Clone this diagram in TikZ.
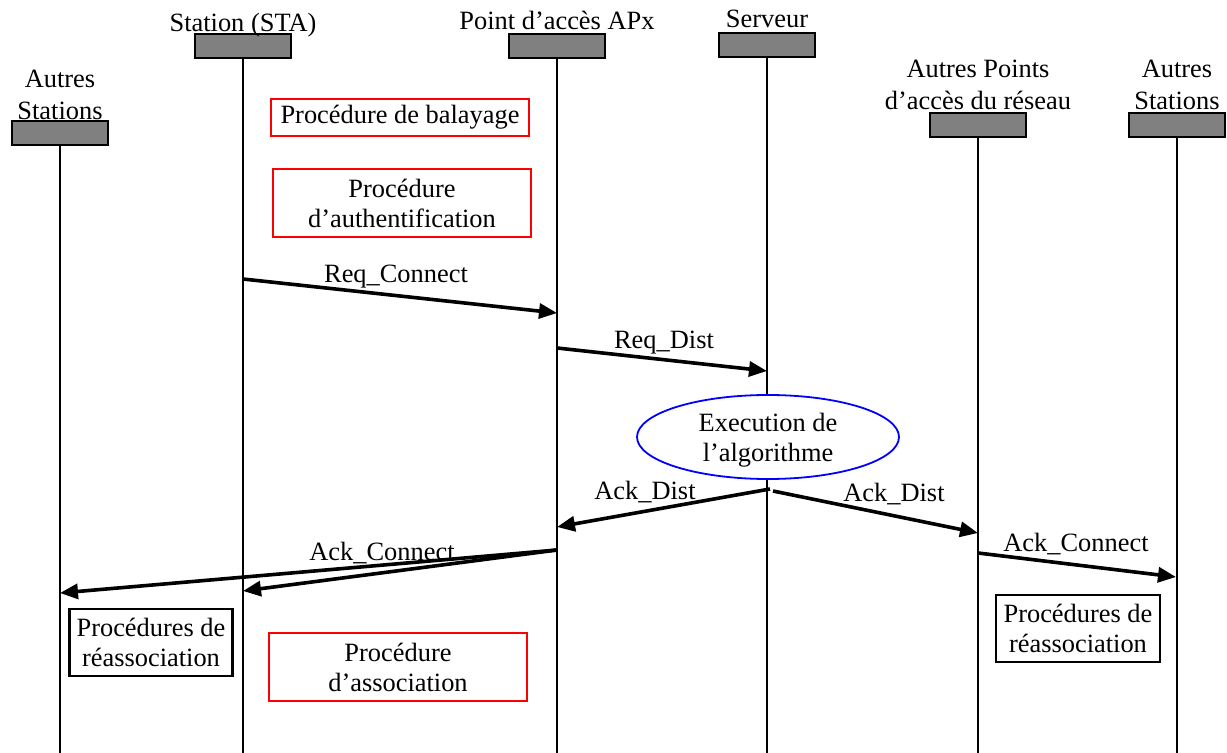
\documentclass[tikz,border=0pt]{standalone}
\usepackage{fontspec}
\setmainfont{Liberation Serif}
\usepackage{tikz}
\usetikzlibrary{shapes, arrows.meta}
\usetikzlibrary{positioning}

\tikzset{
    head/.style={draw=black, fill=black!50, line width=1pt, minimum width=48pt, minimum height=12pt, inner sep=0pt},
    headlbl/.style={align=center, inner sep=0pt, text depth=0pt, font=\fontsize{13.2}{16}\selectfont},
    life/.style={line width=0.9pt},
    msg/.style={line width=1.8pt, -{Triangle[length=9pt, width=7.5pt]}},
    msglbl/.style={anchor=base, inner sep=0pt},
    proc/.style={draw=red, line width=0.9pt, align=center, inner sep=0pt},
    reproc/.style={draw=black, line width=1.1pt, align=center, inner sep=0pt},
}

\begin{document}
\begin{tikzpicture}[x=0.5pt, y=-0.5pt, font=\fontsize{13.2}{15}\selectfont]

        \useasboundingbox (0,0) rectangle (1227,753);

        % entities
        \node[head] (ast1) at (60,133) {};
        \node[head] (sta) at (243,46) {};
        \node[head] (ap) at (557,46) {};
        \node[head] (srv) at (767,45) {};
        \node[head] (aps) at (978,125) {};
        \node[head] (ast2) at (1177,125) {};

        \node[headlbl, above=0pt of ast1] (ast1lbl) {Autres\\Stations};
        \node[headlbl, above=0.5pt of sta] (stalbl) {Station (STA)};
        \node[headlbl, above=1.6pt of ap] (aplbl) {Point d’accès APx};
        \node[headlbl, above=2pt of srv] (srvlbl) {Serveur};
        \node[headlbl, above=1pt of aps] (apslbl) {Autres Points\\d’accès du réseau};
        \node[headlbl, above=1pt of ast2] (ast2lbl) {Autres\\Stations};

        % lifelines
        \foreach \n in {ast1, sta, ap, srv, aps, ast2} {
            \coordinate (\n-end) at (\n.south |- 0,753);
            \draw[life] (\n.south) -- (\n-end);
        }

        % procedures
        \node[proc, minimum width=129pt, minimum height=18.5pt] (scan) at (400,117.5) {Procédure de balayage};
        \node[proc, minimum width=129pt, minimum height=34pt] (auth) at (402,203) {Procédure\\d’authentification};
        \node[proc, minimum width=129pt, minimum height=34pt] (assoc) at (398,667) {Procédure\\d’association};
        \node[reproc, minimum width=81.5pt, minimum height=33.5pt] (reas1) at (151,642.5) {Procédures de\\réassociation};
        \node[reproc, minimum width=82pt, minimum height=33.5pt] (reas2) at (1078,628.5) {Procédures de\\réassociation};

        \node[ellipse, draw=blue, fill=white, line width=0.9pt, minimum width=131pt, minimum height=42pt, inner sep=0pt, text depth=0pt, align=center] (algo) at (768,437) {Execution de\\l’algorithme};

        % message points
        \coordinate (rc1) at (243,279);
        \coordinate (rc2) at (557,313);
        \coordinate (rd1) at (557,348);
        \coordinate (rd2) at (767,371);
        \coordinate (ad0) at (770,489);
        \coordinate (ad1) at (557,527);
        \coordinate (ad0b) at (773,491);
        \coordinate (ad2) at (978,533);
        \coordinate (ac0) at (557,550);
        \coordinate (ac1) at (60,593);
        \coordinate (ac2) at (243,591);
        \coordinate (ac3) at (978,553);
        \coordinate (ac4) at (1176,577);

        \draw[msg] (rc1) to (rc2);
        \draw[msg] (rd1) to (rd2);
        \draw[msg] (ad0) to (ad1);
        \draw[msg] (ad0b) to (ad2);
        \draw[msg] (ac0) to (ac1);
        \draw[msg] (ac0) to (ac2);
        \draw[msg] (ac3) to (ac4);

        \node[msglbl] (rclbl) at (396,283) {Req\_Connect};
        \node[msglbl] (rdlbl) at (664,349) {Req\_Dist};
        \node[msglbl] (adlbl1) at (645,500) {Ack\_Dist};
        \node[msglbl] (adlbl2) at (894,502) {Ack\_Dist};
        \node[msglbl] (aclbl1) at (382,560) {Ack\_Connect};
        \node[msglbl] (aclbl2) at (1076,552) {Ack\_Connect};

    \end{tikzpicture}
\end{document}
